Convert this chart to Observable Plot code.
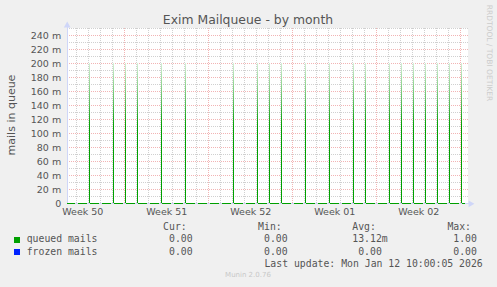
<!DOCTYPE html>
<html><head><meta charset="utf-8">
<script src="https://cdn.jsdelivr.net/npm/d3@7"></script>
<script src="https://cdn.jsdelivr.net/npm/@observablehq/plot@0.6"></script>
<style>
html,body{margin:0;padding:0;background:#f0f0f0;}
#c{position:relative;width:497px;height:287px;overflow:hidden;background:#f0f0f0;font-family:"DejaVu Sans";color:#555;}
#c svg{position:absolute;left:0;top:0;}
.t{position:absolute;white-space:pre;line-height:1;}
.m{font-family:"DejaVu Sans Mono";font-size:9.8px;color:#555;}
.sq{position:absolute;width:6px;height:6px;}
</style></head><body><div id="c"></div>
<script>
// ---- data ----
const title = "Exim Mailqueue - by month";
const yAxisLabel = "mails in queue";
const seriesNames = ["queued mails", "frozen mails"];
const statHeaders = ["Cur:", "Min:", "Avg:", "Max:"];
const curValues = ["0.00", "0.00"];
const minValues = ["0.00", "0.00"];
const avgValues = ["13.12m", "0.00"];
const maxValues = ["1.00", "0.00"];
const lastUpdate = "Last update: Mon Jan 12 10:00:05 2026";
const versionText = "Munin 2.0.76";
const watermark = "RRDTOOL / TOBI OETIKER";

const spikeTimes = [
  "2025-12-12T02:00Z", "2025-12-14T02:00Z", "2025-12-15T02:00Z", "2025-12-16T02:00Z",
  "2025-12-18T02:00Z", "2025-12-20T02:00Z", "2025-12-24T02:00Z", "2025-12-26T02:00Z",
  "2025-12-27T02:00Z", "2025-12-28T02:00Z", "2025-12-30T02:00Z", "2026-01-01T02:00Z",
  "2026-01-03T02:00Z", "2026-01-04T02:00Z", "2026-01-06T02:00Z", "2026-01-07T02:00Z",
  "2026-01-08T02:00Z", "2026-01-09T02:00Z", "2026-01-10T02:00Z", "2026-01-11T02:00Z",
  "2026-01-12T02:00Z"
];
const spikeValues = [0.2, 0.2, 0.2, 0.2, 0.2, 0.2, 0.2, 0.2, 0.2, 0.2, 0.2, 0.2,
  0.2, 0.2, 0.2, 0.2, 0.2, 0.2, 0.2, 0.2, 0.2];
const queuedBaseline = 0;

const yTickValues = [0, 0.02, 0.04, 0.06, 0.08, 0.10, 0.12, 0.14, 0.16, 0.18, 0.20, 0.22, 0.24];
const yTickLabels = ["0", "20 m", "40 m", "60 m", "80 m", "100 m", "120 m", "140 m", "160 m", "180 m", "200 m", "220 m", "240 m"];
const weekTickTimes = ["2025-12-11T12:00Z", "2025-12-18T12:00Z", "2025-12-25T12:00Z", "2026-01-01T12:00Z", "2026-01-08T12:00Z"];
const weekTickLabels = ["Week 50", "Week 51", "Week 52", "Week 01", "Week 02"];

const xStart = new Date("2025-12-10T04:48Z");
const xEnd = new Date("2026-01-12T10:00Z");
const yMax = 0.25;

// ---- styles ----
const C = {queued: "#00a000", frozen: "#0022ff", axis: "#cfd6f8", grid: "#d0d0d0", mgrid: "#f2b4b4"};

// ---- derived ----
const spikes = spikeTimes.map((t, i) => ({t: new Date(t), v: spikeValues[i]}));
const weekDates = weekTickTimes.map(t => new Date(t));
const dayLines = d3.utcDay.range(d3.utcDay.ceil(xStart), xEnd).filter(d => d.getUTCDay() !== 1);
const weekLines = d3.utcMonday.range(d3.utcMonday.ceil(xStart), xEnd);
const minorY = d3.range(1, 26, 2).map(k => k / 100);
const majorY = d3.range(1, 13).map(k => k / 50);
const hour = 3600e3;
const gridEnd = new Date(+xEnd + 6 * hour);
const arrowX = new Date(+xEnd + 9.4 * hour);
const crisp = {shapeRendering: "crispEdges"};

const plot = Plot.plot({
  width: 497, height: 222,
  marginLeft: 66.7, marginRight: 31.7, marginTop: 28.3, marginBottom: 18.7,
  x: {type: "utc", domain: [xStart, xEnd], label: null},
  y: {domain: [0, yMax], label: null},
  style: {background: "transparent", fontFamily: "DejaVu Sans", fontSize: "9.5px", color: "#555", overflow: "visible"},
  marks: [
    Plot.rect([0], {x1: xStart, x2: gridEnd, y1: 0, y2: yMax, fill: "white", ...crisp}),
    Plot.ruleX(dayLines, {y1: 0, y2: yMax * 1.01, stroke: C.grid, strokeDasharray: "1,1", ...crisp}),
    Plot.ruleX(weekLines, {y1: 0, y2: yMax * 1.01, stroke: C.mgrid, strokeDasharray: "1,1", ...crisp}),
    Plot.ruleY(minorY, {x1: xStart, x2: gridEnd, stroke: C.grid, strokeDasharray: "1,1", ...crisp}),
    Plot.ruleY(majorY, {x1: xStart, x2: gridEnd, stroke: C.mgrid, strokeDasharray: "1,1", ...crisp}),
    Plot.ruleX([xStart], {y1: 0, y2: yMax * 1.02, stroke: C.axis, ...crisp}),
    Plot.ruleY([0], {x1: xStart, x2: arrowX, stroke: C.axis, ...crisp}),
    Plot.dot([xStart], {x: d => d, y: yMax * 1.019, symbol: "triangle", r: 2.5, fill: C.axis, stroke: "none"}),
    Plot.dot([arrowX], {x: d => d, y: 0, symbol: "triangle", r: 2.5, rotate: 90, fill: C.axis, stroke: "none"}),
    Plot.ruleX(spikes, {x: "t", y1: queuedBaseline, y2: "v", stroke: "url(#spikeGrad)", strokeWidth: 1, ...crisp}),
    Plot.ruleY([queuedBaseline], {stroke: C.queued, strokeWidth: 1.2, strokeDasharray: "9,3", strokeDashoffset: 0.9, ...crisp}),
    Plot.axisY(yTickValues, {label: null, tickSize: 0, tickPadding: 6, tickFormat: d => yTickLabels[yTickValues.indexOf(d)]}),
    Plot.axisX(weekDates, {label: null, tickSize: 0, tickPadding: 4, tickFormat: d => weekTickLabels[weekDates.findIndex(w => +w === +d)]})
  ]
});

const ys = plot.scale("y");
const ns = "http://www.w3.org/2000/svg";
const defs = document.createElementNS(ns, "defs");
const spikeTop = d3.max(spikeValues);
defs.innerHTML = `<linearGradient id="spikeGrad" gradientUnits="userSpaceOnUse" x1="0" x2="0" y1="${ys.apply(spikeTop)}" y2="${ys.apply(spikeTop * 0.55)}"><stop offset="0" stop-color="#d4efd4"/><stop offset="0.6" stop-color="#60c060"/><stop offset="1" stop-color="${C.queued}"/></linearGradient>`;
plot.insertBefore(defs, plot.firstChild);

const c = document.getElementById("c");
c.appendChild(plot);

function addText(txt, cls, css) {
  const el = document.createElement("div");
  el.className = "t " + (cls || "");
  el.textContent = txt;
  Object.assign(el.style, css);
  c.appendChild(el);
  return el;
}
addText(title, "", {left: "0px", width: "496px", textAlign: "center", top: "13.5px", fontSize: "12.4px", color: "#555"});
addText(yAxisLabel, "", {left: "10.5px", top: "115px", fontSize: "11px", color: "#555", transform: "translate(-50%,-50%) rotate(-90deg)"});
addText(watermark, "", {left: "488.5px", top: "53px", fontSize: "7.5px", color: "#cccccc", transform: "translate(-50%,-50%) rotate(90deg)"});
addText(versionText, "", {left: "0px", width: "496px", textAlign: "center", top: "272.4px", fontSize: "7px", color: "#c8c8c8"});

const colRight = [198.5, 293.5, 387.7, 482.8];
const rowTop = [222.4, 234.4, 246.7, 258.7];
const colors = [C.queued, C.frozen];
statHeaders.forEach((h, j) => addText(h + "  ", "m", {right: (497 - colRight[j]) + "px", top: rowTop[0] + "px"}));
const cols = [curValues, minValues, avgValues, maxValues];
seriesNames.forEach((name, i) => {
  const sq = document.createElement("div");
  sq.className = "sq";
  Object.assign(sq.style, {left: "14px", top: (rowTop[i + 1] + 2.2) + "px", background: colors[i]});
  c.appendChild(sq);
  addText(name, "m", {left: "26.7px", top: rowTop[i + 1] + "px"});
  cols.forEach((vals, j) => {
    const v = vals[i];
    addText(v + (/[a-zA-Z]$/.test(v) ? "" : " "), "m", {right: (497 - colRight[j]) + "px", top: rowTop[i + 1] + "px"});
  });
});
addText(lastUpdate, "m", {right: (497 - 482.7) + "px", top: rowTop[3] + "px"});
</script></body></html>
